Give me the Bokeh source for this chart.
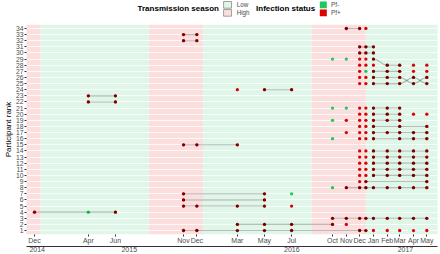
import numpy as np
from bokeh.plotting import figure
from bokeh.models import (Range1d, FixedTicker, DatetimeTickFormatter, DatetimeAxis)
from bokeh.layouts import column
from bokeh.embed import file_html
from bokeh.resources import INLINE
from bokeh.core.properties import value

# ---------------- data ----------------
VISIT_DATES = ["2014-12-01", "2015-04-01", "2015-06-01", "2015-11-01", "2015-12-01",
               "2016-03-01", "2016-05-01", "2016-07-01", "2016-10-01", "2016-11-01",
               "2016-12-01", "2016-12-15", "2017-01-01", "2017-02-01", "2017-03-01",
               "2017-04-01", "2017-05-01"]
TICK_DATES = ["2014-12-01", "2015-04-01", "2015-06-01", "2015-11-01", "2015-12-01",
              "2016-03-01", "2016-05-01", "2016-07-01", "2016-10-01", "2016-11-01",
              "2016-12-01", "2017-01-01", "2017-02-01", "2017-03-01", "2017-04-01",
              "2017-05-01"]
X_START, X_END = "2014-11-13", "2017-05-25"

RANKS = [34, 33, 32, 31, 30, 29, 28, 27, 26, 25, 24, 23, 22, 21, 20, 19, 18,
         17, 16, 15, 14, 13, 12, 11, 10, 9, 8, 7, 6, 5, 4, 3, 2, 1]
# one character per visit: "+" Pf+, "-" Pf-, "." no sample
ROW_CODES = [
    ".........+++.....",  # 34
    "...++............",  # 33
    "...++............",  # 32
    "..........+++....",  # 31
    "..........+++....",  # 30
    "........--+++....",  # 29
    "..........+++++++",  # 28
    "..........+-+++++",  # 27
    "..........+++++++",  # 26
    "..........+++++++",  # 25
    ".....+++.........",  # 24
    ".++..............",  # 23
    ".++..............",  # 22
    "........--+++++..",  # 21
    "..........+++++++",  # 20
    "........-++++++..",  # 19
    "..........+++.+.+",  # 18
    ".........++++++++",  # 17
    "........-.+++.+++",  # 16
    "...+++...........",  # 15
    "..........+++++++",  # 14
    "..........+++++++",  # 13
    "..........+++++++",  # 12
    "..........+++++++",  # 11
    "..........+++++++",  # 10
    "..........++....+",  # 9
    "........-++++++++",  # 8
    "...+..+-.........",  # 7
    "...+..+..........",  # 6
    "...+++++.........",  # 5
    "+-+..............",  # 4
    "........+++++++++",  # 3
    ".....+++++.......",  # 2
    "...+++++..+++++++",  # 1
]
# persistent infections: sequences of (rank, visit index)
CLONE_PATHS = [
    [(34, 9), (34, 10)],
    [(33, 3), (33, 4)],
    [(32, 3), (32, 4)],
    [(31, 10), (31, 11), (31, 12)],
    [(30, 10), (30, 11), (30, 12)],
    [(29, 12), (28, 13), (28, 14)],
    [(27, 12), (27, 13), (27, 14)],
    [(26, 12), (26, 13), (26, 14), (25, 15), (26, 16)],
    [(25, 12), (25, 13), (25, 14), (26, 15), (25, 16)],
    [(24, 6), (24, 7)],
    [(23, 1), (23, 2)],
    [(22, 1), (22, 2)],
    [(21, 12), (21, 13), (21, 14)],
    [(20, 12), (20, 13), (20, 14)],
    [(19, 12), (19, 13), (19, 14)],
    [(18, 12), (18, 14), (18, 16)],
    [(17, 12), (17, 13), (17, 14), (17, 15), (17, 16)],
    [(16, 12), (16, 14), (16, 15), (16, 16)],
    [(15, 3), (15, 4), (15, 5)],
    [(14, 12), (14, 13), (14, 14), (14, 15), (14, 16)],
    [(13, 12), (13, 13), (13, 14), (13, 15), (13, 16)],
    [(12, 12), (12, 13), (12, 14), (12, 15), (12, 16)],
    [(11, 12), (11, 13), (11, 14), (11, 15), (11, 16)],
    [(10, 12), (10, 13), (10, 14), (10, 15), (10, 16)],
    [(9, 11), (9, 16)],
    [(8, 9), (8, 10), (8, 11), (8, 12), (8, 13), (8, 14), (8, 15), (8, 16)],
    [(7, 3), (7, 6)],
    [(6, 3), (6, 6)],
    [(5, 3), (5, 4), (5, 5), (5, 6)],
    [(4, 0), (4, 2)],
    [(3, 8), (3, 9), (3, 10), (3, 11), (3, 12), (3, 13), (3, 14), (3, 15), (3, 16)],
    [(2, 5), (2, 6), (2, 7), (2, 8)],
    [(1, 3), (1, 4), (1, 5), (1, 6), (1, 7), (1, 10), (1, 11)],
]
SEASON_START = ["2014-08-15", "2014-12-15", "2015-08-15", "2015-12-15", "2016-08-15", "2016-12-15"]
SEASON_END = ["2014-12-15", "2015-08-15", "2015-12-15", "2016-08-15", "2016-12-15", "2017-08-15"]
SEASON_LEVEL = ["High", "Low", "High", "Low", "High", "Low"]
YEARS = [2014, 2015, 2016, 2017]
SEASON_LABELS = ["Low", "High"]
STATUS_LABELS = ["Pf-", "Pf+"]

# ---------------- style ----------------
FONT = "Liberation Sans"
LOW_COL, HIGH_COL = "#dff6e9", "#fbdfdf"
NEG_COL, POS_COL = "#1fc85e", "#dc0000"
TXT_GREY = "#4d4d4d"
W = 440
LEFT, RIGHT = 19, 3
LEG_H, MAIN_H = 24, 230


def ms(d):
    return int(np.datetime64(d, "ms").astype("int64"))


vx = [ms(d) for d in VISIT_DATES]
x0, x1 = ms(X_START), ms(X_END)
y_lo, y_hi = 0.35, 34.65

# ---------------- main panel ----------------
p = figure(width=W, height=MAIN_H, x_axis_type="datetime", title=None,
           x_range=Range1d(x0, x1), y_range=Range1d(y_lo, y_hi),
           output_backend="svg", toolbar_location=None,
           min_border_left=LEFT, min_border_right=RIGHT,
           min_border_top=0, min_border_bottom=0)
p.outline_line_color = None
p.background_fill_color = "white"

season_cols = [LOW_COL if s == "Low" else HIGH_COL for s in SEASON_LEVEL]
p.quad(left=[ms(d) for d in SEASON_START], right=[ms(d) for d in SEASON_END],
       bottom=y_lo, top=y_hi, fill_color=season_cols, line_color=None, level="image")

# points
px, py, pc = [], [], []
for rank, code in zip(RANKS, ROW_CODES):
    for i, ch in enumerate(code):
        if ch in "+-":
            px.append(vx[i]); py.append(rank)
            pc.append(POS_COL if ch == "+" else NEG_COL)
p.scatter(px, py, size=3.3, fill_color=pc, line_color=None)

# persistence lines
sx0, sy0, sx1, sy1 = [], [], [], []
bx0, by0, bx1, by1, bcx = [], [], [], [], []
lx, ly = [], []
for path in CLONE_PATHS:
    for (ra, ia), (rb, ib) in zip(path[:-1], path[1:]):
        if ra == rb:
            sx0.append(vx[ia]); sy0.append(ra); sx1.append(vx[ib]); sy1.append(rb)
        else:
            bx0.append(vx[ia]); by0.append(ra); bx1.append(vx[ib]); by1.append(rb)
            bcx.append((vx[ia] + vx[ib]) / 2)
    for r, i in path:
        lx.append(vx[i]); ly.append(r)
p.segment(sx0, sy0, sx1, sy1, line_color="#000000", line_alpha=0.25, line_width=1.1)
if bx0:
    p.bezier(x0=bx0, y0=by0, x1=bx1, y1=by1, cx0=bcx, cy0=by0, cx1=bcx, cy1=by1,
             line_color="#000000", line_alpha=0.25, line_width=1.1)
p.scatter(lx, ly, size=3.3, fill_color="black", fill_alpha=0.38, line_color=None)

# axes
p.xaxis.ticker = FixedTicker(ticks=[ms(d) for d in TICK_DATES])
p.xaxis.formatter = DatetimeTickFormatter(days="%b", months="%b", years="%b")
p.yaxis.ticker = FixedTicker(ticks=RANKS)
p.ygrid.ticker = FixedTicker(ticks=RANKS)
p.xgrid.visible = False
p.ygrid.grid_line_color = "#ffffff"
p.ygrid.grid_line_alpha = 0.75
p.ygrid.grid_line_width = 1

# year axis (second row under the month labels)
year_ticks = []
for y in YEARS:
    a = max(ms(f"{y}-01-01"), x0)
    b = min(ms(f"{y}-12-31"), x1)
    year_ticks.append((a + b) // 2)
yax = DatetimeAxis(ticker=FixedTicker(ticks=year_ticks),
                   formatter=DatetimeTickFormatter(days="%Y", months="%Y", years="%Y"))
p.add_layout(yax, "below")

for ax in (p.xaxis[0], p.yaxis[0], yax):
    ax.major_tick_out = 2
    ax.major_tick_in = 0
    ax.minor_tick_line_color = None
    ax.major_tick_line_color = "#333333"
    ax.major_label_text_color = TXT_GREY
    ax.major_label_text_font = FONT
    ax.major_label_standoff = 0
p.xaxis[0].axis_line_color = None
p.yaxis[0].axis_line_color = None
p.yaxis[0].major_label_standoff = 1
yax.axis_line_color = "#333333"
yax.major_tick_line_color = None
yax.major_tick_out = 0
p.xaxis[0].major_label_text_font_size = "7px"
yax.major_label_text_font_size = "7px"
p.yaxis.major_label_text_font_size = "6.8px"
p.yaxis.axis_label = "Participant rank"
p.yaxis.axis_label_text_font = FONT
p.yaxis.axis_label_text_font_size = "8px"
p.yaxis.axis_label_text_font_style = "normal"
p.yaxis.axis_label_text_color = "#000000"
p.yaxis.axis_label_standoff = 0

# ---------------- legend strip (drawn in pixel coordinates) ----------------
lg = figure(width=W, height=LEG_H, x_range=Range1d(0, W), y_range=Range1d(0, LEG_H),
            title=None, output_backend="svg", toolbar_location=None,
            x_axis_location=None, y_axis_location=None,
            min_border_left=0, min_border_right=0, min_border_top=0, min_border_bottom=0)
lg.outline_line_color = None
lg.grid.visible = False
key_top, key_bot = [23, 15], [16.3, 8.3]
lg.quad(left=211, right=219.5, top=key_top, bottom=key_bot,
        fill_color=[LOW_COL, HIGH_COL], line_color="#8c8c8c", line_width=0.8)
lg.quad(left=314, right=321.5, top=key_top, bottom=key_bot,
        fill_color=[NEG_COL, POS_COL], line_color=None)
lg.text(x=225, y=[19.6, 11.6], text=SEASON_LABELS, text_font=value(FONT),
        text_font_size="6.3px", text_color=TXT_GREY, text_baseline="middle")
lg.text(x=326, y=[19.6, 11.6], text=STATUS_LABELS, text_font=value(FONT),
        text_font_size="6.3px", text_color=TXT_GREY, text_baseline="middle")
lg.text(x=[206, 309], y=15.7, text=["Transmission season", "Infection status"],
        text_font=value(FONT), text_font_size="8px", text_font_style="bold",
        text_align="right", text_baseline="middle", text_color="#000000")

layout = column(lg, p, spacing=0)
open("out.html", "w").write(file_html(layout, INLINE))
